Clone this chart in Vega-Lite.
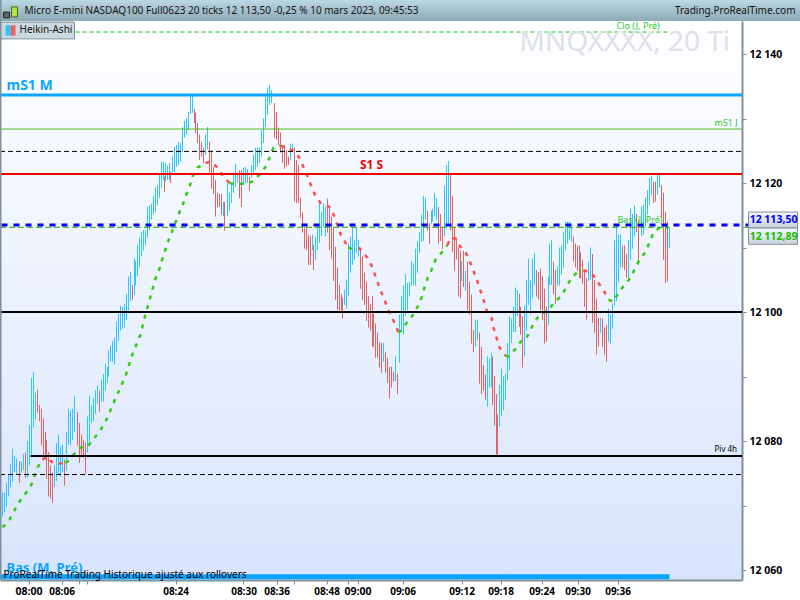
{
"$schema":"https://vega.github.io/schema/vega-lite/v6.json",
"width":742,"height":559,"autosize":"none",
"padding":{"left":0,"top":21,"right":58,"bottom":20},
"background":"#ffffff",
"view":{"stroke":null,"fill":{"gradient":"linear","x1":0,"y1":0,"x2":0,"y2":1,"stops":[{"offset":0,"color":"#ffffff"},{"offset":1,"color":"#d8e4fd"}]}},
"datasets":{
"bars":[
{"t":2,"p":12068.3,"p2":12072.0,"d":"u"},{"t":4,"p":12068.9,"p2":12072.0,"d":"u"},{"t":6,"p":12069.8,"p2":12073.5,"d":"u"},{"t":8,"p":12071.4,"p2":12074.8,"d":"u"},{"t":10,"p":12072.8,"p2":12076.5,"d":"u"},{"t":12,"p":12073.7,"p2":12078.8,"d":"u"},{"t":14,"p":12075.2,"p2":12077.7,"d":"u"},{"t":16,"p":12074.8,"p2":12077.3,"d":"u"},{"t":19,"p":12073.5,"p2":12076.9,"d":"d"},{"t":21,"p":12075.1,"p2":12076.8,"d":"u"},
{"t":23,"p":12075.5,"p2":12078.0,"d":"u"},{"t":25,"p":12074.3,"p2":12078.2,"d":"d"},{"t":27,"p":12074.3,"p2":12080.0,"d":"u"},{"t":29,"p":12076.2,"p2":12082.5,"d":"u"},{"t":31,"p":12077.9,"p2":12089.8,"d":"u"},{"t":33,"p":12082.1,"p2":12090.7,"d":"u"},{"t":35,"p":12083.3,"p2":12087.5,"d":"u"},{"t":37,"p":12084.4,"p2":12087.9,"d":"d"},{"t":39,"p":12083.1,"p2":12085.6,"d":"d"},{"t":41,"p":12079.3,"p2":12085.0,"d":"d"},
{"t":43,"p":12077.7,"p2":12083.5,"d":"d"},{"t":45,"p":12077.1,"p2":12081.4,"d":"d"},{"t":46,"p":12074.2,"p2":12080.2,"d":"d"},{"t":48,"p":12071.4,"p2":12078.3,"d":"d"},{"t":50,"p":12071.1,"p2":12076.2,"d":"d"},{"t":52,"p":12070.4,"p2":12075.1,"d":"d"},{"t":54,"p":12072.9,"p2":12076.3,"d":"u"},{"t":56,"p":12073.8,"p2":12079.7,"d":"u"},{"t":58,"p":12074.8,"p2":12081.0,"d":"u"},{"t":60,"p":12074.5,"p2":12079.1,"d":"u"},
{"t":62,"p":12075.2,"p2":12079.4,"d":"u"},{"t":64,"p":12073.1,"p2":12077.1,"d":"d"},{"t":66,"p":12075.4,"p2":12081.4,"d":"u"},{"t":68,"p":12079.4,"p2":12085.0,"d":"u"},{"t":70,"p":12079.4,"p2":12084.7,"d":"u"},{"t":72,"p":12080.2,"p2":12085.0,"d":"u"},{"t":74,"p":12081.4,"p2":12087.0,"d":"u"},{"t":77,"p":12079.3,"p2":12084.5,"d":"d"},{"t":79,"p":12076.6,"p2":12082.8,"d":"d"},{"t":81,"p":12077.6,"p2":12081.0,"d":"d"},
{"t":83,"p":12077.4,"p2":12080.2,"d":"d"},{"t":85,"p":12074.9,"p2":12079.7,"d":"d"},{"t":87,"p":12078.2,"p2":12083.8,"d":"u"},{"t":89,"p":12079.3,"p2":12087.0,"d":"u"},{"t":91,"p":12082.8,"p2":12085.5,"d":"u"},{"t":93,"p":12083.1,"p2":12086.7,"d":"u"},{"t":95,"p":12084.2,"p2":12087.9,"d":"u"},{"t":97,"p":12085.8,"p2":12088.6,"d":"u"},{"t":99,"p":12084.5,"p2":12087.8,"d":"d"},{"t":101,"p":12086.1,"p2":12089.5,"d":"u"},
{"t":103,"p":12086.1,"p2":12090.4,"d":"u"},{"t":105,"p":12087.9,"p2":12092.0,"d":"u"},{"t":107,"p":12089.0,"p2":12091.5,"d":"u"},{"t":108,"p":12090.0,"p2":12094.0,"d":"u"},{"t":110,"p":12092.3,"p2":12094.8,"d":"u"},{"t":112,"p":12092.3,"p2":12095.5,"d":"u"},{"t":114,"p":12091.8,"p2":12096.0,"d":"u"},{"t":116,"p":12093.8,"p2":12098.5,"d":"u"},{"t":118,"p":12095.5,"p2":12099.7,"d":"u"},{"t":120,"p":12097.1,"p2":12101.0,"d":"u"},
{"t":122,"p":12097.4,"p2":12100.8,"d":"u"},{"t":124,"p":12097.6,"p2":12101.3,"d":"u"},{"t":126,"p":12098.8,"p2":12102.8,"d":"u"},{"t":128,"p":12100.2,"p2":12105.5,"d":"u"},{"t":130,"p":12101.7,"p2":12106.2,"d":"u"},{"t":132,"p":12101.9,"p2":12104.2,"d":"d"},{"t":134,"p":12102.7,"p2":12108.3,"d":"u"},{"t":135,"p":12104.1,"p2":12107.9,"d":"u"},{"t":137,"p":12105.5,"p2":12110.3,"d":"u"},{"t":139,"p":12107.0,"p2":12111.5,"d":"u"},
{"t":141,"p":12108.6,"p2":12112.4,"d":"u"},{"t":143,"p":12109.5,"p2":12112.7,"d":"u"},{"t":145,"p":12110.3,"p2":12112.7,"d":"u"},{"t":147,"p":12111.5,"p2":12116.3,"d":"u"},{"t":149,"p":12112.7,"p2":12116.5,"d":"u"},{"t":151,"p":12114.3,"p2":12116.8,"d":"u"},{"t":153,"p":12115.2,"p2":12118.0,"d":"u"},{"t":155,"p":12115.5,"p2":12119.3,"d":"u"},{"t":157,"p":12116.6,"p2":12119.7,"d":"u"},{"t":159,"p":12117.7,"p2":12121.3,"d":"u"},
{"t":161,"p":12119.3,"p2":12123.3,"d":"u"},{"t":163,"p":12120.5,"p2":12123.3,"d":"u"},{"t":164,"p":12118.6,"p2":12121.0,"d":"d"},{"t":165,"p":12120.2,"p2":12123.1,"d":"u"},{"t":167,"p":12120.5,"p2":12122.7,"d":"u"},{"t":169,"p":12120.5,"p2":12123.1,"d":"u"},{"t":170,"p":12120.0,"p2":12121.7,"d":"d"},{"t":172,"p":12121.4,"p2":12124.1,"d":"u"},{"t":174,"p":12121.7,"p2":12125.6,"d":"u"},{"t":176,"p":12122.5,"p2":12125.9,"d":"u"},
{"t":178,"p":12122.8,"p2":12126.4,"d":"u"},{"t":180,"p":12123.3,"p2":12126.2,"d":"u"},{"t":182,"p":12124.8,"p2":12128.7,"d":"u"},{"t":184,"p":12127.0,"p2":12129.6,"d":"u"},{"t":186,"p":12127.5,"p2":12130.1,"d":"u"},{"t":188,"p":12128.2,"p2":12131.0,"d":"u"},{"t":190,"p":12130.7,"p2":12133.4,"d":"u"},{"t":192,"p":12130.9,"p2":12133.7,"d":"u"},{"t":194,"p":12129.3,"p2":12131.5,"d":"d"},{"t":195,"p":12127.8,"p2":12130.9,"d":"d"},
{"t":197,"p":12126.2,"p2":12129.3,"d":"d"},{"t":199,"p":12123.6,"p2":12127.5,"d":"d"},{"t":201,"p":12124.1,"p2":12126.4,"d":"d"},{"t":203,"p":12123.1,"p2":12125.5,"d":"d"},{"t":205,"p":12124.4,"p2":12127.5,"d":"u"},{"t":207,"p":12125.3,"p2":12128.7,"d":"u"},{"t":209,"p":12121.6,"p2":12126.4,"d":"d"},{"t":211,"p":12119.1,"p2":12125.1,"d":"d"},{"t":213,"p":12118.3,"p2":12122.5,"d":"d"},{"t":215,"p":12114.8,"p2":12120.5,"d":"d"},
{"t":217,"p":12116.2,"p2":12118.5,"d":"d"},{"t":219,"p":12116.3,"p2":12118.3,"d":"d"},{"t":221,"p":12115.1,"p2":12118.3,"d":"d"},{"t":223,"p":12114.9,"p2":12117.1,"d":"u"},{"t":224,"p":12112.6,"p2":12117.1,"d":"d"},{"t":227,"p":12114.9,"p2":12120.0,"d":"u"},{"t":229,"p":12115.7,"p2":12118.5,"d":"u"},{"t":231,"p":12116.9,"p2":12120.0,"d":"u"},{"t":233,"p":12118.5,"p2":12121.3,"d":"u"},{"t":235,"p":12119.4,"p2":12123.0,"d":"u"},
{"t":237,"p":12120.0,"p2":12121.6,"d":"u"},{"t":239,"p":12117.6,"p2":12122.0,"d":"d"},{"t":241,"p":12116.3,"p2":12122.0,"d":"d"},{"t":243,"p":12119.7,"p2":12122.4,"d":"u"},{"t":245,"p":12119.9,"p2":12122.5,"d":"u"},{"t":247,"p":12120.0,"p2":12122.2,"d":"u"},{"t":249,"p":12118.8,"p2":12121.0,"d":"d"},{"t":251,"p":12120.8,"p2":12122.8,"d":"u"},{"t":253,"p":12121.6,"p2":12124.4,"d":"u"},{"t":255,"p":12122.0,"p2":12125.5,"d":"u"},
{"t":257,"p":12122.5,"p2":12125.5,"d":"u"},{"t":259,"p":12123.1,"p2":12125.5,"d":"u"},{"t":261,"p":12124.1,"p2":12128.2,"d":"u"},{"t":263,"p":12126.2,"p2":12130.0,"d":"u"},{"t":265,"p":12128.7,"p2":12133.4,"d":"u"},{"t":267,"p":12130.6,"p2":12134.8,"d":"u"},{"t":269,"p":12132.1,"p2":12135.1,"d":"u"},{"t":271,"p":12132.4,"p2":12134.4,"d":"u"},{"t":274,"p":12127.0,"p2":12132.4,"d":"d"},{"t":276,"p":12126.7,"p2":12131.0,"d":"d"},
{"t":278,"p":12125.9,"p2":12128.6,"d":"d"},{"t":280,"p":12124.7,"p2":12127.8,"d":"d"},{"t":282,"p":12123.1,"p2":12125.9,"d":"d"},{"t":284,"p":12122.2,"p2":12125.9,"d":"d"},{"t":286,"p":12122.5,"p2":12125.1,"d":"d"},{"t":288,"p":12122.8,"p2":12124.1,"d":"d"},{"t":290,"p":12123.6,"p2":12126.1,"d":"u"},{"t":292,"p":12124.8,"p2":12126.1,"d":"u"},{"t":294,"p":12117.1,"p2":12125.5,"d":"d"},{"t":296,"p":12116.9,"p2":12123.6,"d":"d"},
{"t":298,"p":12116.9,"p2":12122.8,"d":"d"},{"t":300,"p":12114.6,"p2":12117.7,"d":"d"},{"t":302,"p":12112.3,"p2":12115.4,"d":"d"},{"t":304,"p":12109.8,"p2":12113.2,"d":"d"},{"t":306,"p":12109.6,"p2":12113.1,"d":"d"},{"t":308,"p":12107.3,"p2":12112.0,"d":"d"},{"t":310,"p":12107.3,"p2":12111.8,"d":"d"},{"t":312,"p":12109.6,"p2":12112.0,"d":"u"},{"t":313,"p":12106.5,"p2":12110.4,"d":"d"},{"t":315,"p":12108.1,"p2":12111.7,"d":"u"},
{"t":317,"p":12109.6,"p2":12113.2,"d":"u"},{"t":319,"p":12110.7,"p2":12116.9,"d":"u"},{"t":321,"p":12111.8,"p2":12115.5,"d":"u"},{"t":323,"p":12113.2,"p2":12116.9,"d":"u"},{"t":325,"p":12111.7,"p2":12116.3,"d":"u"},{"t":327,"p":12112.3,"p2":12117.6,"d":"d"},{"t":329,"p":12109.6,"p2":12116.3,"d":"d"},{"t":331,"p":12108.3,"p2":12114.8,"d":"d"},{"t":333,"p":12104.8,"p2":12113.1,"d":"d"},{"t":335,"p":12101.9,"p2":12110.1,"d":"d"},
{"t":337,"p":12100.3,"p2":12106.9,"d":"d"},{"t":339,"p":12100.0,"p2":12104.2,"d":"d"},{"t":341,"p":12100.2,"p2":12102.8,"d":"d"},{"t":342,"p":12099.0,"p2":12102.2,"d":"d"},{"t":344,"p":12101.1,"p2":12103.4,"d":"u"},{"t":346,"p":12100.5,"p2":12105.0,"d":"u"},{"t":348,"p":12102.5,"p2":12110.6,"d":"u"},{"t":350,"p":12106.1,"p2":12111.7,"d":"u"},{"t":352,"p":12107.3,"p2":12113.1,"d":"u"},{"t":354,"p":12108.1,"p2":12111.2,"d":"u"},
{"t":356,"p":12109.2,"p2":12113.1,"d":"u"},{"t":358,"p":12108.6,"p2":12111.2,"d":"u"},{"t":360,"p":12103.6,"p2":12110.0,"d":"d"},{"t":362,"p":12101.9,"p2":12108.6,"d":"d"},{"t":364,"p":12101.1,"p2":12106.1,"d":"d"},{"t":366,"p":12098.6,"p2":12104.7,"d":"d"},{"t":368,"p":12097.6,"p2":12102.5,"d":"d"},{"t":370,"p":12097.1,"p2":12101.3,"d":"d"},{"t":372,"p":12094.6,"p2":12102.5,"d":"d"},{"t":373,"p":12094.6,"p2":12099.7,"d":"d"},
{"t":375,"p":12092.9,"p2":12098.2,"d":"d"},{"t":377,"p":12092.9,"p2":12096.8,"d":"d"},{"t":379,"p":12091.4,"p2":12095.4,"d":"d"},{"t":381,"p":12090.6,"p2":12095.2,"d":"d"},{"t":383,"p":12092.3,"p2":12095.2,"d":"u"},{"t":385,"p":12090.6,"p2":12093.8,"d":"d"},{"t":387,"p":12089.0,"p2":12092.9,"d":"d"},{"t":389,"p":12086.6,"p2":12091.5,"d":"d"},{"t":391,"p":12088.3,"p2":12091.5,"d":"d"},{"t":393,"p":12089.2,"p2":12090.7,"d":"d"},
{"t":395,"p":12089.3,"p2":12093.1,"d":"u"},{"t":397,"p":12087.3,"p2":12090.4,"d":"d"},{"t":399,"p":12092.1,"p2":12099.6,"d":"u"},{"t":401,"p":12097.2,"p2":12102.5,"d":"u"},{"t":403,"p":12096.5,"p2":12104.1,"d":"u"},{"t":405,"p":12099.4,"p2":12105.9,"d":"u"},{"t":407,"p":12100.3,"p2":12104.5,"d":"u"},{"t":409,"p":12102.4,"p2":12104.7,"d":"u"},{"t":411,"p":12104.1,"p2":12107.9,"d":"u"},{"t":413,"p":12104.1,"p2":12107.5,"d":"u"},
{"t":415,"p":12104.1,"p2":12109.8,"d":"u"},{"t":417,"p":12106.1,"p2":12111.0,"d":"u"},{"t":419,"p":12109.2,"p2":12112.4,"d":"u"},{"t":421,"p":12110.9,"p2":12115.1,"d":"u"},{"t":423,"p":12111.0,"p2":12118.0,"d":"u"},{"t":425,"p":12114.3,"p2":12117.7,"d":"u"},{"t":427,"p":12112.6,"p2":12115.7,"d":"d"},{"t":429,"p":12110.6,"p2":12113.8,"d":"d"},{"t":431,"p":12113.7,"p2":12115.7,"d":"u"},{"t":432,"p":12114.0,"p2":12116.0,"d":"u"},
{"t":434,"p":12114.8,"p2":12118.5,"d":"u"},{"t":436,"p":12114.3,"p2":12117.7,"d":"u"},{"t":438,"p":12110.6,"p2":12116.3,"d":"d"},{"t":440,"p":12111.0,"p2":12115.2,"d":"d"},{"t":442,"p":12109.8,"p2":12113.2,"d":"d"},{"t":444,"p":12111.8,"p2":12119.6,"d":"u"},{"t":446,"p":12113.7,"p2":12122.8,"d":"u"},{"t":448,"p":12113.8,"p2":12123.4,"d":"u"},{"t":450,"p":12112.6,"p2":12121.3,"d":"d"},{"t":452,"p":12109.3,"p2":12118.0,"d":"d"},
{"t":454,"p":12106.4,"p2":12113.2,"d":"d"},{"t":456,"p":12108.1,"p2":12111.5,"d":"d"},{"t":458,"p":12102.4,"p2":12110.0,"d":"d"},{"t":460,"p":12102.1,"p2":12109.5,"d":"d"},{"t":461,"p":12104.8,"p2":12107.9,"d":"u"},{"t":463,"p":12103.9,"p2":12109.5,"d":"d"},{"t":465,"p":12103.3,"p2":12106.4,"d":"u"},{"t":467,"p":12100.3,"p2":12107.8,"d":"d"},{"t":469,"p":12099.6,"p2":12104.7,"d":"d"},{"t":471,"p":12095.1,"p2":12102.7,"d":"d"},
{"t":473,"p":12093.8,"p2":12097.2,"d":"d"},{"t":475,"p":12094.6,"p2":12098.8,"d":"u"},{"t":477,"p":12095.7,"p2":12098.8,"d":"u"},{"t":479,"p":12088.9,"p2":12096.8,"d":"d"},{"t":481,"p":12087.3,"p2":12094.6,"d":"d"},{"t":483,"p":12087.8,"p2":12091.8,"d":"d"},{"t":485,"p":12086.4,"p2":12090.3,"d":"d"},{"t":487,"p":12085.3,"p2":12093.1,"d":"u"},{"t":489,"p":12088.3,"p2":12092.8,"d":"u"},{"t":491,"p":12088.3,"p2":12093.7,"d":"u"},
{"t":492,"p":12085.6,"p2":12093.1,"d":"d"},{"t":494,"p":12082.4,"p2":12090.1,"d":"d"},{"t":496,"p":12077.9,"p2":12087.3,"d":"d"},{"t":497,"p":12077.9,"p2":12084.1,"d":"d"},{"t":499,"p":12082.2,"p2":12088.7,"d":"u"},{"t":501,"p":12083.8,"p2":12091.2,"d":"u"},{"t":503,"p":12084.8,"p2":12090.0,"d":"u"},{"t":505,"p":12086.4,"p2":12090.4,"d":"u"},{"t":507,"p":12089.5,"p2":12095.2,"d":"u"},{"t":509,"p":12091.0,"p2":12099.3,"d":"u"},
{"t":511,"p":12095.2,"p2":12099.0,"d":"u"},{"t":513,"p":12096.9,"p2":12100.8,"d":"u"},{"t":515,"p":12096.9,"p2":12103.8,"d":"u"},{"t":517,"p":12099.4,"p2":12103.4,"d":"u"},{"t":519,"p":12097.7,"p2":12102.8,"d":"d"},{"t":520,"p":12096.5,"p2":12100.8,"d":"d"},{"t":522,"p":12091.4,"p2":12099.3,"d":"d"},{"t":524,"p":12093.1,"p2":12101.0,"d":"u"},{"t":526,"p":12097.1,"p2":12105.0,"d":"u"},{"t":528,"p":12101.1,"p2":12108.3,"d":"u"},
{"t":530,"p":12099.6,"p2":12105.0,"d":"u"},{"t":532,"p":12102.2,"p2":12108.3,"d":"u"},{"t":534,"p":12104.2,"p2":12109.2,"d":"u"},{"t":536,"p":12102.4,"p2":12106.5,"d":"d"},{"t":538,"p":12101.9,"p2":12106.2,"d":"d"},{"t":540,"p":12100.3,"p2":12106.7,"d":"d"},{"t":542,"p":12098.8,"p2":12105.5,"d":"d"},{"t":544,"p":12095.1,"p2":12103.6,"d":"d"},{"t":546,"p":12095.4,"p2":12100.8,"d":"d"},{"t":548,"p":12098.0,"p2":12105.5,"d":"u"},
{"t":549,"p":12104.2,"p2":12110.6,"d":"u"},{"t":551,"p":12104.2,"p2":12111.2,"d":"u"},{"t":553,"p":12102.8,"p2":12107.8,"d":"d"},{"t":555,"p":12101.3,"p2":12106.5,"d":"d"},{"t":557,"p":12104.1,"p2":12107.0,"d":"u"},{"t":559,"p":12104.1,"p2":12110.0,"d":"u"},{"t":561,"p":12105.8,"p2":12110.3,"d":"u"},{"t":563,"p":12106.9,"p2":12112.4,"d":"u"},{"t":565,"p":12109.5,"p2":12114.0,"d":"u"},{"t":567,"p":12110.6,"p2":12114.0,"d":"u"},
{"t":569,"p":12111.2,"p2":12114.0,"d":"u"},{"t":571,"p":12110.9,"p2":12113.1,"d":"u"},{"t":573,"p":12107.8,"p2":12111.7,"d":"d"},{"t":575,"p":12106.9,"p2":12110.6,"d":"d"},{"t":577,"p":12106.4,"p2":12110.3,"d":"d"},{"t":579,"p":12105.3,"p2":12110.3,"d":"d"},{"t":580,"p":12105.2,"p2":12109.2,"d":"d"},{"t":582,"p":12104.4,"p2":12108.1,"d":"d"},{"t":584,"p":12100.8,"p2":12106.5,"d":"d"},{"t":586,"p":12098.8,"p2":12105.3,"d":"d"},
{"t":588,"p":12104.8,"p2":12107.8,"d":"u"},{"t":590,"p":12105.0,"p2":12110.0,"d":"u"},{"t":592,"p":12098.3,"p2":12109.0,"d":"d"},{"t":594,"p":12096.8,"p2":12105.0,"d":"d"},{"t":596,"p":12093.4,"p2":12102.1,"d":"d"},{"t":598,"p":12094.6,"p2":12099.1,"d":"d"},{"t":600,"p":12096.8,"p2":12099.1,"d":"u"},{"t":602,"p":12094.6,"p2":12099.0,"d":"d"},{"t":604,"p":12093.4,"p2":12097.6,"d":"d"},{"t":606,"p":12092.3,"p2":12098.0,"d":"d"},
{"t":608,"p":12095.4,"p2":12100.5,"d":"u"},{"t":610,"p":12095.1,"p2":12099.6,"d":"u"},{"t":612,"p":12097.4,"p2":12101.3,"d":"u"},{"t":614,"p":12101.0,"p2":12111.2,"d":"u"},{"t":616,"p":12101.7,"p2":12113.4,"d":"u"},{"t":618,"p":12104.7,"p2":12112.0,"d":"u"},{"t":620,"p":12106.9,"p2":12112.0,"d":"u"},{"t":622,"p":12106.9,"p2":12110.3,"d":"d"},{"t":624,"p":12106.5,"p2":12110.3,"d":"d"},{"t":626,"p":12105.3,"p2":12109.0,"d":"d"},
{"t":628,"p":12105.2,"p2":12111.2,"d":"u"},{"t":630,"p":12108.1,"p2":12116.0,"d":"u"},{"t":632,"p":12109.8,"p2":12115.2,"d":"u"},{"t":634,"p":12111.7,"p2":12116.5,"d":"u"},{"t":636,"p":12112.4,"p2":12115.2,"d":"d"},{"t":638,"p":12107.3,"p2":12114.3,"d":"d"},{"t":641,"p":12111.7,"p2":12116.3,"d":"u"},{"t":643,"p":12112.0,"p2":12116.6,"d":"u"},{"t":645,"p":12113.2,"p2":12117.7,"d":"u"},{"t":647,"p":12115.1,"p2":12118.9,"d":"u"},
{"t":649,"p":12116.6,"p2":12120.8,"d":"u"},{"t":651,"p":12118.2,"p2":12121.1,"d":"u"},{"t":653,"p":12116.9,"p2":12120.2,"d":"d"},{"t":655,"p":12117.1,"p2":12120.2,"d":"d"},{"t":657,"p":12118.2,"p2":12121.3,"d":"u"},{"t":659,"p":12119.3,"p2":12121.3,"d":"u"},{"t":661,"p":12114.6,"p2":12119.7,"d":"d"},{"t":663,"p":12108.1,"p2":12118.5,"d":"d"},{"t":665,"p":12104.5,"p2":12115.5,"d":"d"},{"t":667,"p":12104.7,"p2":12114.0,"d":"d"},{"t":669,"p":12110.0,"p2":12113.1,"d":"u"}
],
"ma":[
{"s":1,"d":"u","t":2,"p":12066.6},{"s":1,"d":"u","t":9,"p":12067.8},{"s":1,"d":"u","t":18,"p":12070.4},{"s":1,"d":"u","t":30,"p":12072.9},{"s":1,"d":"u","t":37,"p":12075.9},{"s":1,"d":"u","t":42,"p":12077.1},
{"s":2,"d":"d","t":42,"p":12077.1},{"s":2,"d":"d","t":46,"p":12077.6},{"s":2,"d":"d","t":49,"p":12077.1},{"s":2,"d":"d","t":53,"p":12076.5},{"s":2,"d":"d","t":58,"p":12076.5},{"s":2,"d":"d","t":65,"p":12076.6},
{"s":3,"d":"u","t":65,"p":12076.6},{"s":3,"d":"u","t":67,"p":12076.8},{"s":3,"d":"u","t":73,"p":12077.9},{"s":3,"d":"u","t":80,"p":12079.0},{"s":3,"d":"u","t":87,"p":12079.1},{"s":3,"d":"u","t":94,"p":12080.5},{"s":3,"d":"u","t":100,"p":12081.7},{"s":3,"d":"u","t":105,"p":12083.0},{"s":3,"d":"u","t":109,"p":12084.4},{"s":3,"d":"u","t":113,"p":12085.9},{"s":3,"d":"u","t":117,"p":12087.3},{"s":3,"d":"u","t":121,"p":12088.7},{"s":3,"d":"u","t":125,"p":12090.1},{"s":3,"d":"u","t":128,"p":12091.5},{"s":3,"d":"u","t":131,"p":12093.1},{"s":3,"d":"u","t":135,"p":12094.6},{"s":3,"d":"u","t":140,"p":12096.5},{"s":3,"d":"u","t":145,"p":12099.6},{"s":3,"d":"u","t":150,"p":12102.4},{"s":3,"d":"u","t":155,"p":12105.2},{"s":3,"d":"u","t":158,"p":12106.2},{"s":3,"d":"u","t":161,"p":12107.8},{"s":3,"d":"u","t":164,"p":12109.3},{"s":3,"d":"u","t":167,"p":12110.7},{"s":3,"d":"u","t":171,"p":12112.3},{"s":3,"d":"u","t":174,"p":12113.5},{"s":3,"d":"u","t":178,"p":12115.1},{"s":3,"d":"u","t":182,"p":12116.5},{"s":3,"d":"u","t":185,"p":12117.9},{"s":3,"d":"u","t":189,"p":12119.4},{"s":3,"d":"u","t":192,"p":12121.0},{"s":3,"d":"u","t":197,"p":12122.4},{"s":3,"d":"u","t":205,"p":12123.1},
{"s":4,"d":"d","t":205,"p":12123.1},{"s":4,"d":"d","t":210,"p":12123.3},{"s":4,"d":"d","t":217,"p":12122.4},{"s":4,"d":"d","t":223,"p":12121.0},{"s":4,"d":"d","t":229,"p":12120.0},
{"s":5,"d":"u","t":229,"p":12120.0},{"s":5,"d":"u","t":232,"p":12119.9},{"s":5,"d":"u","t":243,"p":12119.9},{"s":5,"d":"u","t":252,"p":12120.2},{"s":5,"d":"u","t":259,"p":12121.3},{"s":5,"d":"u","t":265,"p":12122.5},{"s":5,"d":"u","t":269,"p":12123.9},{"s":5,"d":"u","t":273,"p":12125.5},{"s":5,"d":"u","t":280,"p":12125.8},
{"s":6,"d":"d","t":280,"p":12125.8},{"s":6,"d":"d","t":283,"p":12125.6},{"s":6,"d":"d","t":292,"p":12125.1},{"s":6,"d":"d","t":298,"p":12124.1},{"s":6,"d":"d","t":303,"p":12122.5},{"s":6,"d":"d","t":307,"p":12121.0},{"s":6,"d":"d","t":311,"p":12119.4},{"s":6,"d":"d","t":315,"p":12118.0},{"s":6,"d":"d","t":320,"p":12116.9},{"s":6,"d":"d","t":329,"p":12116.3},{"s":6,"d":"d","t":334,"p":12114.8},{"s":6,"d":"d","t":340,"p":12112.1},{"s":6,"d":"d","t":345,"p":12110.7},{"s":6,"d":"d","t":348,"p":12110.0},
{"s":7,"d":"u","t":348,"p":12110.0},{"s":7,"d":"u","t":350,"p":12109.8},{"s":7,"d":"u","t":358,"p":12110.0},
{"s":8,"d":"d","t":358,"p":12110.0},{"s":8,"d":"d","t":361,"p":12109.5},{"s":8,"d":"d","t":367,"p":12108.4},{"s":8,"d":"d","t":372,"p":12106.9},{"s":8,"d":"d","t":375,"p":12105.5},{"s":8,"d":"d","t":380,"p":12103.4},{"s":8,"d":"d","t":388,"p":12100.3},{"s":8,"d":"d","t":395,"p":12098.0},{"s":8,"d":"d","t":398,"p":12096.8},
{"s":9,"d":"u","t":398,"p":12096.8},{"s":9,"d":"u","t":401,"p":12097.1},{"s":9,"d":"u","t":406,"p":12098.3},{"s":9,"d":"u","t":412,"p":12099.4},{"s":9,"d":"u","t":417,"p":12100.8},{"s":9,"d":"u","t":421,"p":12102.2},{"s":9,"d":"u","t":424,"p":12103.8},{"s":9,"d":"u","t":427,"p":12105.2},{"s":9,"d":"u","t":431,"p":12106.5},{"s":9,"d":"u","t":435,"p":12108.1},{"s":9,"d":"u","t":441,"p":12109.2},{"s":9,"d":"u","t":447,"p":12110.4},
{"s":10,"d":"d","t":447,"p":12110.4},{"s":10,"d":"d","t":450,"p":12111.5},{"s":10,"d":"d","t":455,"p":12111.4},{"s":10,"d":"d","t":459,"p":12110.3},{"s":10,"d":"d","t":466,"p":12109.0},{"s":10,"d":"d","t":470,"p":12107.6},{"s":10,"d":"d","t":477,"p":12104.7},{"s":10,"d":"d","t":483,"p":12101.9},{"s":10,"d":"d","t":486,"p":12100.3},{"s":10,"d":"d","t":491,"p":12099.1},{"s":10,"d":"d","t":493,"p":12097.6},{"s":10,"d":"d","t":496,"p":12096.0},{"s":10,"d":"d","t":499,"p":12094.5},{"s":10,"d":"d","t":505,"p":12093.2},
{"s":11,"d":"u","t":505,"p":12093.2},{"s":11,"d":"u","t":508,"p":12093.1},{"s":11,"d":"u","t":515,"p":12094.3},{"s":11,"d":"u","t":520,"p":12095.4},{"s":11,"d":"u","t":525,"p":12095.7},{"s":11,"d":"u","t":530,"p":12097.2},{"s":11,"d":"u","t":534,"p":12098.5},{"s":11,"d":"u","t":540,"p":12099.7},{"s":11,"d":"u","t":548,"p":12100.2},{"s":11,"d":"u","t":553,"p":12101.4},{"s":11,"d":"u","t":561,"p":12102.5},{"s":11,"d":"u","t":566,"p":12103.9},{"s":11,"d":"u","t":571,"p":12105.3},{"s":11,"d":"u","t":577,"p":12106.2},{"s":11,"d":"u","t":583,"p":12106.5},
{"s":12,"d":"d","t":583,"p":12106.5},{"s":12,"d":"d","t":590,"p":12106.1},{"s":12,"d":"d","t":593,"p":12105.6},{"s":12,"d":"d","t":598,"p":12104.5},{"s":12,"d":"d","t":604,"p":12103.1},{"s":12,"d":"d","t":608,"p":12101.9},
{"s":13,"d":"u","t":608,"p":12101.9},{"s":13,"d":"u","t":613,"p":12101.6},{"s":13,"d":"u","t":618,"p":12103.0},{"s":13,"d":"u","t":624,"p":12104.2},{"s":13,"d":"u","t":630,"p":12105.3},{"s":13,"d":"u","t":635,"p":12106.9},{"s":13,"d":"u","t":639,"p":12108.1},{"s":13,"d":"u","t":645,"p":12109.3},{"s":13,"d":"u","t":653,"p":12112.3},{"s":13,"d":"u","t":660,"p":12113.2},{"s":13,"d":"u","t":668,"p":12113.1}
],
"levels":[
{"level":"Clo J","t":75,"t2":669,"p":12143.41},
{"level":"mS1 M","t":-0.5,"t2":741.5,"p":12133.64},
{"level":"mS1 J","t":-0.5,"t2":741.5,"p":12128.37},
{"level":"Dash","t":-0.5,"t2":741.5,"p":12124.9},
{"level":"S1 S","t":-0.5,"t2":741.5,"p":12121.4},
{"level":"100","t":-0.5,"t2":741.5,"p":12100},
{"level":"Piv 4h","t":30,"t2":741.5,"p":12077.67},
{"level":"Dash","t":-0.5,"t2":741.5,"p":12074.8},
{"level":"Bas M","t":-0.5,"t2":669,"p":12058.95},
{"level":"Bas J","t":-0.5,"t2":669,"p":12113.13},
{"level":"Bas J","t":743,"t2":748,"p":12113.13},
{"level":"Last","t":1,"t2":748,"p":12113.5}
]
},
"layer":[
{"data":{"name":"bars"},"mark":{"type":"rule","strokeWidth":1},
 "encoding":{"y2":{"field":"p2"},"color":{"condition":{"test":"datum.d=='u'","value":"#2ac8ff"},"value":"#e06464"}}},
{"data":{"name":"ma"},"mark":{"type":"line","strokeWidth":2.5,"strokeDash":[4,6]},
 "encoding":{"detail":{"field":"s"},"color":{"condition":{"test":"datum.d=='u'","value":"#33cc11"},"value":"#ff4d4d"}}},
{"data":{"name":"levels"},"mark":{"type":"rule"},
 "encoding":{"x2":{"field":"t2"},
  "color":{"field":"level","type":"nominal","legend":null,"scale":{"domain":["Clo J","mS1 M","mS1 J","Dash","S1 S","100","Piv 4h","Bas M","Bas J","Last"],"range":["#00cc00","#0aa5ff","#4db81f","#000000","#f00000","#000000","#000000","#0aa5ff","#22aa22","#0000ff"]}},
  "size":{"field":"level","type":"nominal","legend":null,"scale":{"type":"ordinal","domain":["Clo J","mS1 M","mS1 J","Dash","S1 S","100","Piv 4h","Bas M","Bas J","Last"],"range":[1,3,1,1,2,2,2,5,1,3]}},
  "strokeDash":{"field":"level","type":"nominal","legend":null,"scale":{"domain":["Clo J","mS1 M","mS1 J","Dash","S1 S","100","Piv 4h","Bas M","Bas J","Last"],"range":[[4,3],[1,0],[1,0],[5,3],[1,0],[1,0],[1,0],[1,0],[6,3],[6,6]]}}}},
{"data":{"values":[{"t":519,"p":12141.7,"label":"MNQXXXX, 20 Ti"}]},"mark":{"type":"text","align":"left","font":"Noto Sans","fontSize":28,"color":"#dde1ea"},"encoding":{"text":{"field":"label"}}},
{"data":{"values":[{"t":6,"p":12135.04,"label":"mS1 M"}]},"mark":{"type":"text","align":"left","font":"Noto Sans","fontSize":14,"fontWeight":"bold","color":"#0aa5ff"},"encoding":{"text":{"field":"label"}}},
{"data":{"values":[{"t":6,"p":12060.31,"label":"Bas (M, Pré)"}]},"mark":{"type":"text","align":"left","font":"Noto Sans","fontSize":13,"fontWeight":"bold","color":"#0aa5ff"},"encoding":{"text":{"field":"label"}}},
{"data":{"values":[{"t":371,"p":12122.79,"label":"S1 S"}]},"mark":{"type":"text","align":"center","font":"Noto Sans","fontSize":12,"fontWeight":"bold","color":"#f00000"},"encoding":{"text":{"field":"label"}}},
{"data":{"values":[{"t":616,"p":12144.34,"label":"Clo (J, Pré)"},{"t":714,"p":12129.3,"label":"mS1 J"},{"t":617,"p":12114.26,"label":"Bas (J, Pré)"}]},"mark":{"type":"text","align":"left","font":"Noto Sans","fontSize":9,"color":"#22cc22"},"encoding":{"text":{"field":"label"}}},
{"data":{"values":[{"t":714,"p":12078.6,"label":"Piv 4h"}]},"mark":{"type":"text","align":"left","font":"Noto Sans","fontSize":8,"color":"#000000"},"encoding":{"text":{"field":"label"}}},
{"data":{"values":[{"t":3,"p":12059.22,"label":"ProRealTime Trading  Historique ajusté aux rollovers"}]},"mark":{"type":"text","align":"left","font":"Noto Sans","fontSize":10,"color":"#000000"},"encoding":{"text":{"field":"label"}}},
{"data":{"values":[{"t":-0.5,"t2":800,"p":12145.12,"p2":12148.4}]},"mark":{"type":"rect","color":{"gradient":"linear","x1":0,"y1":0,"x2":0,"y2":1,"stops":[{"offset":0,"color":"#bcd8e3"},{"offset":1,"color":"#8ea9b6"}]}},"encoding":{"x2":{"field":"t2"},"y2":{"field":"p2"}}},
{"data":{"values":[{"t":24,"p":12146.74,"label":"Micro E-mini NASDAQ100 Full0623 20 ticks 12 113,50 -0,25 % 10 mars 2023, 09:45:53"}]},"mark":{"type":"text","align":"left","font":"Noto Sans","fontSize":10,"color":"#111111"},"encoding":{"text":{"field":"label"}}},
{"data":{"values":[{"t":795,"p":12146.74,"label":"Trading.ProRealTime.com"}]},"mark":{"type":"text","align":"right","font":"Noto Sans","fontSize":10,"color":"#111111"},"encoding":{"text":{"field":"label"}}},
{"data":{"values":[{"t":3,"t2":9,"p":12145.6,"p2":12146.5}]},"mark":{"type":"rect","color":"#5a6670","stroke":"#222222"},"encoding":{"x2":{"field":"t2"},"y2":{"field":"p2"}}},
{"data":{"values":[{"t":11,"t2":17,"p":12145.76,"p2":12147.3}]},"mark":{"type":"rect","color":"#b6e34a","stroke":"#3f6a10"},"encoding":{"x2":{"field":"t2"},"y2":{"field":"p2"}}},
{"data":{"values":[{"t":-0.5,"t2":74,"p":12142.35,"p2":12144.95}]},"mark":{"type":"rect","color":"#cbdae1","stroke":"#7f919c"},"encoding":{"x2":{"field":"t2"},"y2":{"field":"p2"}}},
{"data":{"values":[{"t":5,"t2":10,"p":12142.85,"p2":12144.45}]},"mark":{"type":"rect","color":"#2ac8ff"},"encoding":{"x2":{"field":"t2"},"y2":{"field":"p2"}}},
{"data":{"values":[{"t":10,"t2":15,"p":12142.85,"p2":12144.45}]},"mark":{"type":"rect","color":"#e06464"},"encoding":{"x2":{"field":"t2"},"y2":{"field":"p2"}}},
{"data":{"values":[{"t":19,"p":12143.65,"label":"Heikin-Ashi"}]},"mark":{"type":"text","align":"left","font":"Noto Sans","fontSize":10,"color":"#111111"},"encoding":{"text":{"field":"label"}}},
{"data":{"values":[{"t":748,"t2":797,"p":12113.02,"p2":12115.5},{"t":748,"t2":797,"p":12110.5,"p2":12113.02}]},"mark":{"type":"rect","stroke":"#7f919c","color":{"gradient":"linear","x1":0,"y1":0,"x2":0,"y2":1,"stops":[{"offset":0,"color":"#f4f6fc"},{"offset":1,"color":"#c9d2dc"}]}},"encoding":{"x2":{"field":"t2"},"y2":{"field":"p2"}}},
{"data":{"values":[{"t":773,"p":12114.26,"label":"12 113,50"}]},"mark":{"type":"text","align":"center","font":"Noto Sans","fontSize":10.5,"fontWeight":"bold","color":"#0000ff"},"encoding":{"text":{"field":"label"}}},
{"data":{"values":[{"t":773,"p":12111.7,"label":"12 112,89"}]},"mark":{"type":"text","align":"center","font":"Noto Sans","fontSize":10.5,"fontWeight":"bold","color":"#22bb00"},"encoding":{"text":{"field":"label"}}},
{"data":{"values":[{"t":0,"t2":0,"p":12058.45,"p2":12148.4}]},"mark":{"type":"rule","strokeWidth":2,"color":"#7f919c"},"encoding":{"y2":{"field":"p2"}}}
],
"encoding":{
 "x":{"field":"t","type":"quantitative","title":null,"scale":{"domain":[-0.5,741.5],"nice":false,"zero":false},
  "axis":{"orient":"bottom","grid":false,"domainColor":"#7f919c","domainWidth":2,"tickColor":"#7f919c","tickSize":4,"labelPadding":2,"labelOverlap":false,"labelFlush":false,"labelFont":"Noto Sans","labelFontWeight":"bold","labelColor":"#000000",
   "labelFontSize":{"condition":{"test":"datum.value==28||datum.value==357","value":10.5},"value":10},
   "values":[28,61,78,86,175,243,276,293,326,347,357,402,461,500,541,577,617],
   "labelExpr":"{'28':'08:00','61':'08:06','175':'08:24','243':'08:30','276':'08:36','326':'08:48','357':'09:00','402':'09:06','461':'09:12','500':'09:18','541':'09:24','577':'09:30','617':'09:36'}[''+datum.value]||''"}},
 "y":{"field":"p","type":"quantitative","title":null,"scale":{"domain":[12058.45,12145.12],"nice":false,"zero":false},
  "axis":{"orient":"right","grid":false,"domainColor":"#7f919c","domainWidth":2,"tickColor":"#7f919c","tickSize":4,"labelPadding":3,"labelOverlap":false,"labelFont":"Noto Sans","labelFontWeight":"bold","labelFontSize":10.5,"labelColor":"#000000",
   "values":[12060,12070,12080,12090,12100,12110,12120,12130,12140],
   "labelExpr":"datum.value%20==0?replace(format(datum.value,','),',',' '):''"}}
}
}
